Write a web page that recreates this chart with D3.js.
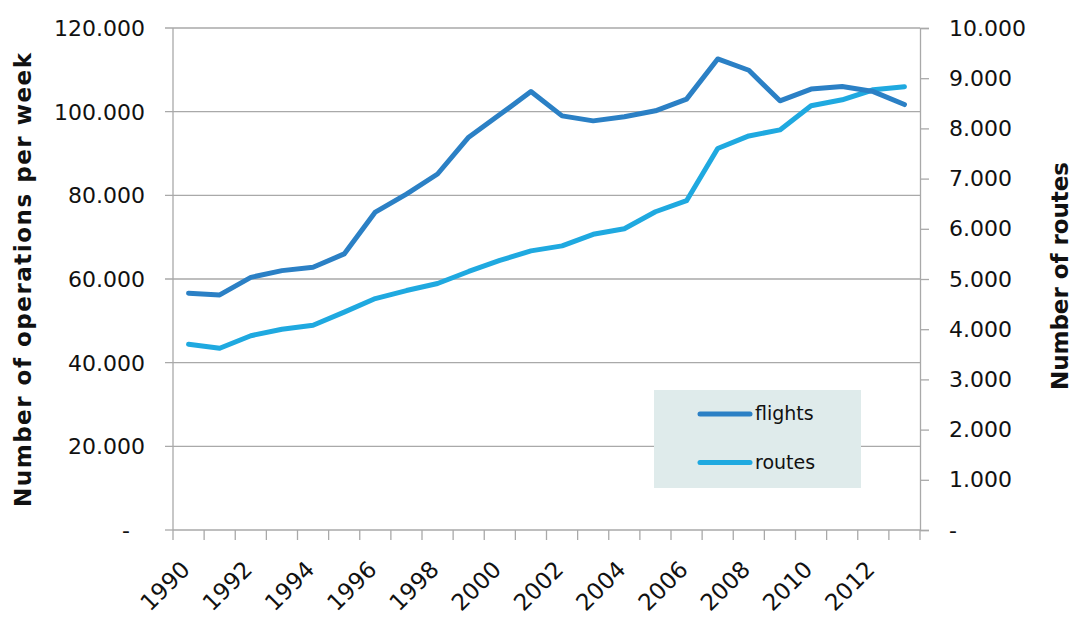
<!DOCTYPE html>
<html>
<head>
<meta charset="utf-8">
<script src="https://cdn.jsdelivr.net/npm/d3@7"></script>
<style>
  html, body { margin: 0; padding: 0; background: #fff; }
  svg { display: block; }
  text { font-family: "DejaVu Sans", sans-serif; fill: #111; }
</style>
</head>
<body>
<svg id="chart" width="1073" height="621"></svg>
<script>
const years = [1990,1991,1992,1993,1994,1995,1996,1997,1998,1999,2000,2001,2002,2003,2004,2005,2006,2007,2008,2009,2010,2011,2012,2013];
const flights = [56600,56200,60400,62000,62800,66000,76000,80300,85100,93900,99300,104800,99000,97800,98800,100200,103000,112600,109900,102600,105400,106000,104800,101700];
const routes = [3700,3620,3870,4000,4080,4340,4610,4770,4910,5150,5370,5560,5660,5890,6000,6340,6560,7600,7850,7970,8450,8570,8770,8830];
const leftTicks = [0,20000,40000,60000,80000,100000,120000];
const rightTicks = [0,1000,2000,3000,4000,5000,6000,7000,8000,9000,10000];
const yearLabels = [1990,1992,1994,1996,1998,2000,2002,2004,2006,2008,2010,2012];
const seriesNames = ["flights","routes"];
const colors = ["#2b80c5","#1fa9e0"];

const svg = d3.select("#chart");
const L = 173, R = 920, T = 28, B = 530;

const x = d3.scaleBand().domain(years).range([L, R]).padding(0);
const yL = d3.scaleLinear().domain([0,120000]).range([B, T]);
const yR = d3.scaleLinear().domain([0,10000]).range([B, T]);

const fmt = v => v === 0 ? "-" : d3.format(",")(v).replace(/,/g, ".");

// gridlines
svg.append("g").selectAll("line").data(leftTicks.filter(d => d > 0)).join("line")
  .attr("x1", L - 8).attr("x2", R).attr("y1", d => yL(d)).attr("y2", d => yL(d))
  .attr("stroke", "#a9a9a9").attr("stroke-width", 1.3);

// left axis line + labels
svg.append("line").attr("x1", L).attr("x2", L).attr("y1", T).attr("y2", B)
  .attr("stroke", "#a9a9a9").attr("stroke-width", 1.3);
svg.append("line").attr("x1", L - 8).attr("x2", L).attr("y1", B).attr("y2", B)
  .attr("stroke", "#a9a9a9").attr("stroke-width", 1.3);
svg.append("g").selectAll("text").data(leftTicks).join("text")
  .attr("x", d => d === 0 ? 130 : 145).attr("y", d => yL(d)).attr("dy", "0.36em")
  .attr("text-anchor", "end").style("font-size", "22px").text(fmt);

// right axis
const gR = svg.append("g").attr("transform", `translate(${R},0)`)
  .call(d3.axisRight(yR).tickValues(rightTicks).tickSize(9).tickPadding(20).tickFormat(fmt));
gR.select(".domain").attr("stroke", "#a9a9a9").attr("stroke-width", 1.3);
gR.selectAll(".tick line").attr("stroke", "#a9a9a9").attr("stroke-width", 1.3);
gR.selectAll(".tick text").style("font-size", "22px").attr("font-family", null).attr("fill", "#111");

// bottom axis
svg.append("line").attr("x1", L).attr("x2", R).attr("y1", B).attr("y2", B)
  .attr("stroke", "#a9a9a9").attr("stroke-width", 1.3);
const bounds = years.map(y => x(y)).concat([R]);
svg.append("g").selectAll("line").data(bounds).join("line")
  .attr("x1", d => d).attr("x2", d => d).attr("y1", B).attr("y2", B + 10)
  .attr("stroke", "#a9a9a9").attr("stroke-width", 1.3);
svg.append("g").selectAll("text").data(yearLabels).join("text")
  .attr("transform", d => `translate(${x(d) + x.bandwidth()/2 - 3},${B + 35}) rotate(-45)`)
  .attr("text-anchor", "end").attr("dy", "0.36em").style("font-size", "23px").text(d => d);

// lines
const lineL = d3.line().x((d,i) => x(years[i]) + x.bandwidth()/2).y(d => yL(d));
const lineR = d3.line().x((d,i) => x(years[i]) + x.bandwidth()/2).y(d => yR(d));
svg.append("path").datum(routes).attr("d", lineR).attr("fill", "none")
  .attr("stroke", colors[1]).attr("stroke-width", 5).attr("stroke-linejoin", "round").attr("stroke-linecap", "round");
svg.append("path").datum(flights).attr("d", lineL).attr("fill", "none")
  .attr("stroke", colors[0]).attr("stroke-width", 5).attr("stroke-linejoin", "round").attr("stroke-linecap", "round");

// legend
const lg = svg.append("g");
lg.append("rect").attr("x", 654).attr("y", 390).attr("width", 207).attr("height", 98).attr("fill", "#dfebeb");
seriesNames.forEach((n, i) => {
  const yy = 414 + i * 48.5;
  lg.append("line").attr("x1", 700).attr("x2", 750).attr("y1", yy).attr("y2", yy)
    .attr("stroke", colors[i]).attr("stroke-width", 5).attr("stroke-linecap", "round");
  lg.append("text").attr("x", 755).attr("y", yy).attr("dy", "0.33em").style("font-size", "19px").text(n);
});

// axis titles
svg.append("text").attr("transform", "translate(23,280) rotate(-90)")
  .attr("text-anchor", "middle").attr("dy", "0.36em").style("font-size", "23px").style("font-weight", "bold")
  .attr("textLength", 454).attr("lengthAdjust", "spacing")
  .text("Number of operations per week");
svg.append("text").attr("transform", "translate(1060,276) rotate(-90)")
  .attr("text-anchor", "middle").attr("dy", "0.36em").style("font-size", "23px").style("font-weight", "bold")
  .attr("textLength", 228).attr("lengthAdjust", "spacing")
  .text("Number of routes");
</script>
</body>
</html>
